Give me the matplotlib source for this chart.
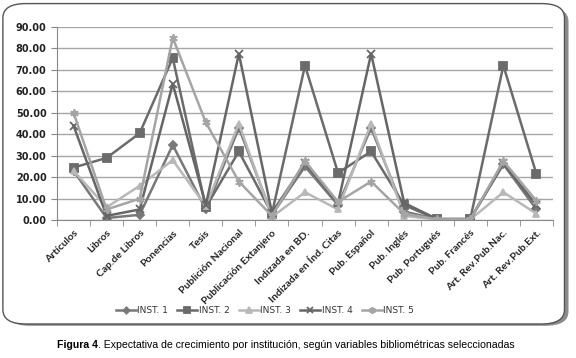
import matplotlib
matplotlib.use("Agg")
import matplotlib.pyplot as plt
from matplotlib.patches import FancyBboxPatch
from matplotlib.ticker import FixedLocator, FormatStrFormatter

categories = ["Artículos", "Libros", "Cap.de Libros", "Ponencias", "Tesis",
              "Publición Nacional", "Publicación Extanjero", "Indizada en BD.",
              "Indizada en Índ. Citas", "Pub. Español", "Pub. Inglés",
              "Pub. Portugués", "Pub. Francés", "Art. Rev.Pub.Nac.",
              "Art. Rev.Pub.Ext."]

inst1 = [23.0, 1.0, 2.5, 35.0, 5.0, 43.0, 2.5, 25.0, 7.0, 43.0, 4.0, 0.5, 0.5, 26.0, 5.0]
inst2 = [24.5, 29.0, 40.5, 75.5, 6.0, 32.0, 3.0, 72.0, 22.0, 32.0, 7.0, 0.5, 0.5, 72.0, 21.5]
inst3 = [23.0, 6.0, 16.0, 28.0, 6.5, 45.0, 1.5, 13.0, 5.0, 45.0, 2.0, 0.3, 0.3, 13.0, 3.0]
inst4 = [44.0, 2.0, 5.0, 63.5, 7.0, 77.5, 3.5, 26.5, 8.0, 77.5, 8.0, 0.5, 0.5, 26.5, 7.0]
inst5 = [50.0, 5.0, 10.0, 85.0, 45.5, 18.0, 2.0, 27.5, 8.5, 18.0, 3.0, 0.4, 0.4, 27.5, 9.0]

series = [("INST. 1", inst1, "D", "#787878", 4),
          ("INST. 2", inst2, "s", "#6b6b6b", 5.5),
          ("INST. 3", inst3, "^", "#b8b8b8", 5),
          ("INST. 4", inst4, "x", "#666666", 5.5),
          ("INST. 5", inst5, (6, 2, 0), "#a5a5a5", 6)]

fig = plt.figure(figsize=(5.76, 3.58), dpi=100)

# rounded chart frame with shadow
shadow = FancyBboxPatch((0.012, 0.09), 0.975, 0.89, boxstyle="round,pad=0,rounding_size=0.04",
                        transform=fig.transFigure, facecolor="#8c8c8c", edgecolor="none", zorder=-2)
frame = FancyBboxPatch((0.005, 0.095), 0.975, 0.895, boxstyle="round,pad=0,rounding_size=0.04",
                       transform=fig.transFigure, facecolor="white", edgecolor="#555555",
                       linewidth=1.0, zorder=-1)
fig.patches.extend([shadow, frame])

ax = fig.add_axes([0.099, 0.385, 0.861, 0.54])
ax.set_facecolor("none")
x = list(range(len(categories)))
for name, vals, mk, col, ms in series:
    ax.plot(x, vals, color=col, marker=mk, markersize=ms,
            markeredgewidth=1.3, markerfacecolor=col, markeredgecolor=col,
            linewidth=1.8, label=name)

ax.set_xlim(-0.5, len(categories) - 0.5)
ax.set_ylim(0, 90)
ax.set_yticks(range(0, 91, 10))
ax.yaxis.set_major_formatter(FormatStrFormatter("%.2f"))
ax.grid(axis="y", color="#a6a6a6", linewidth=1.0)
ax.set_axisbelow(True)
ax.set_xticks(x)
ax.set_xticklabels(categories, rotation=45, ha="right", rotation_mode="anchor",
                   fontsize=7.5, fontweight="bold", color="#222222", family="Lato")
ax.xaxis.set_minor_locator(FixedLocator([i - 0.5 for i in range(len(categories) + 1)]))
ax.tick_params(axis="x", which="major", length=0, pad=6)
ax.tick_params(axis="x", which="minor", length=4, color="#888888")
ax.tick_params(axis="y", length=4, color="#888888", labelsize=7, labelcolor="#222222")
for lbl in ax.get_yticklabels():
    lbl.set_fontweight("bold")
for s in ["top", "right"]:
    ax.spines[s].set_visible(False)
for s in ["left", "bottom"]:
    ax.spines[s].set_color("#888888")

leg = fig.legend(loc="center", bbox_to_anchor=(0.46, 0.133), ncol=5, frameon=False,
                 fontsize=6.5, handlelength=2.2, columnspacing=1.0, handletextpad=0.2,
                 markerscale=0.8)
for t in leg.get_texts():
    t.set_color("#333333")

# caption: bold "Figura 4" followed by normal text, centred as a whole
cap_font = ["Liberation Sans", "DejaVu Sans"]
cap_y = 0.036
t1 = fig.text(0, cap_y, "Figura 4", ha="left", va="center", fontsize=7.6,
              fontweight="bold", family=cap_font)
t2 = fig.text(0, cap_y, ". Expectativa de crecimiento por institución, según variables bibliométricas seleccionadas",
              ha="left", va="center", fontsize=7.6, family=cap_font)
fig.canvas.draw()
inv = fig.transFigure.inverted()
w1 = t1.get_window_extent().transformed(inv).width
w2 = t2.get_window_extent().transformed(inv).width
x0 = 0.497 - (w1 + w2) / 2
t1.set_x(x0)
t2.set_x(x0 + w1)

fig.savefig("out.png", dpi=100)
